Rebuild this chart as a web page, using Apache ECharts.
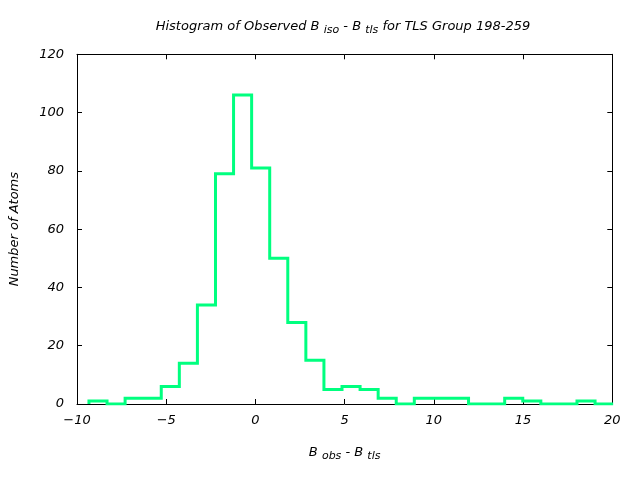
<!DOCTYPE html>
<html>
<head>
<meta charset="utf-8">
<script src="https://cdn.jsdelivr.net/npm/echarts@6/dist/echarts.min.js"></script>
<style>html,body{margin:0;padding:0;background:#fff}#c{width:640px;height:480px}</style>
</head>
<body>
<div id="c"></div>
<script>
// Histogram data
const binStart = -9.33;
const binWidth = 1.013;
const counts = [1, 0, 2, 2, 6, 14, 34, 79, 106, 81, 50, 28, 15, 5, 6, 5, 2, 0, 2, 2, 2, 0, 0, 2, 1, 0, 0, 1, 0];
const xTicks = [-10, -5, 0, 5, 10, 15, 20];
const yTicks = [0, 20, 40, 60, 80, 100, 120];

const FONT = 'DejaVu Sans';
// build step outline (histeps) from bins
const pts = [];
for (let i = 0; i < counts.length; i++) {
  const e0 = binStart + i * binWidth, e1 = e0 + binWidth;
  if (i === 0) pts.push([e0, 0]);
  pts.push([e0, counts[i]]);
  pts.push([e1, counts[i]]);
}
pts.push([binStart + counts.length * binWidth, 0]);

const chart = echarts.init(document.getElementById('c'), null, {renderer: 'canvas'});
const axisCommon = {
  axisLine: {show: true, onZero: false, lineStyle: {color: '#000', width: 1}},
  axisTick: {show: true, inside: true, length: 5, lineStyle: {color: '#000'}},
  splitLine: {show: false}
};
const subStyle = {fontFamily: FONT, fontStyle: 'italic', fontSize: 11, color: '#000', padding: [7, 0, 0, 0]};
chart.setOption({
  animation: false,
  backgroundColor: '#fff',
  title: {
    text: 'Histogram of Observed B {s|iso} - B {s|tls} for TLS Group 198-259',
    left: 338, top: 13, textAlign: 'center',
    textStyle: {
      fontFamily: FONT, fontStyle: 'italic', fontWeight: 'normal', fontSize: 13, color: '#000',
      rich: {s: subStyle}
    }
  },
  grid: {left: 76.5, right: 27.7, top: 54.3, bottom: 76, show: false},
  xAxis: [{
    type: 'value', min: -10, max: 20, interval: 5, position: 'bottom',
    ...axisCommon,
    axisLabel: {fontFamily: FONT, fontStyle: 'italic', fontSize: 13, color: '#000', margin: 10,
      formatter: v => xTicks.includes(v) ? String(v).replace('-', '\u2212') : ''},
    name: 'B {s|obs} - B {s|tls}', nameLocation: 'middle', nameGap: 40,
    nameTextStyle: {fontFamily: FONT, fontStyle: 'italic', fontSize: 13, color: '#000',
      rich: {s: subStyle}}
  }, {
    type: 'value', min: -10, max: 20, interval: 5, position: 'top',
    ...axisCommon, axisLabel: {show: false}
  }],
  yAxis: [{
    type: 'value', min: 0, max: 120, interval: 20, position: 'left',
    ...axisCommon,
    axisLabel: {fontFamily: FONT, fontStyle: 'italic', fontSize: 13, color: '#000', margin: 13,
      formatter: v => yTicks.includes(v) ? String(v) : ''},
    name: 'Number of Atoms', nameLocation: 'middle', nameGap: 56, nameRotate: 90,
    nameTextStyle: {fontFamily: FONT, fontStyle: 'italic', fontSize: 13, color: '#000'}
  }, {
    type: 'value', min: 0, max: 120, interval: 20, position: 'right',
    ...axisCommon, axisLabel: {show: false}
  }],
  series: [{
    type: 'line', xAxisIndex: 0, yAxisIndex: 0,
    data: pts, showSymbol: false, symbol: 'none',
    clip: true,
    lineStyle: {color: '#00ff7f', width: 3, join: 'miter', cap: 'butt'}
  }]
});
</script>
</body>
</html>
